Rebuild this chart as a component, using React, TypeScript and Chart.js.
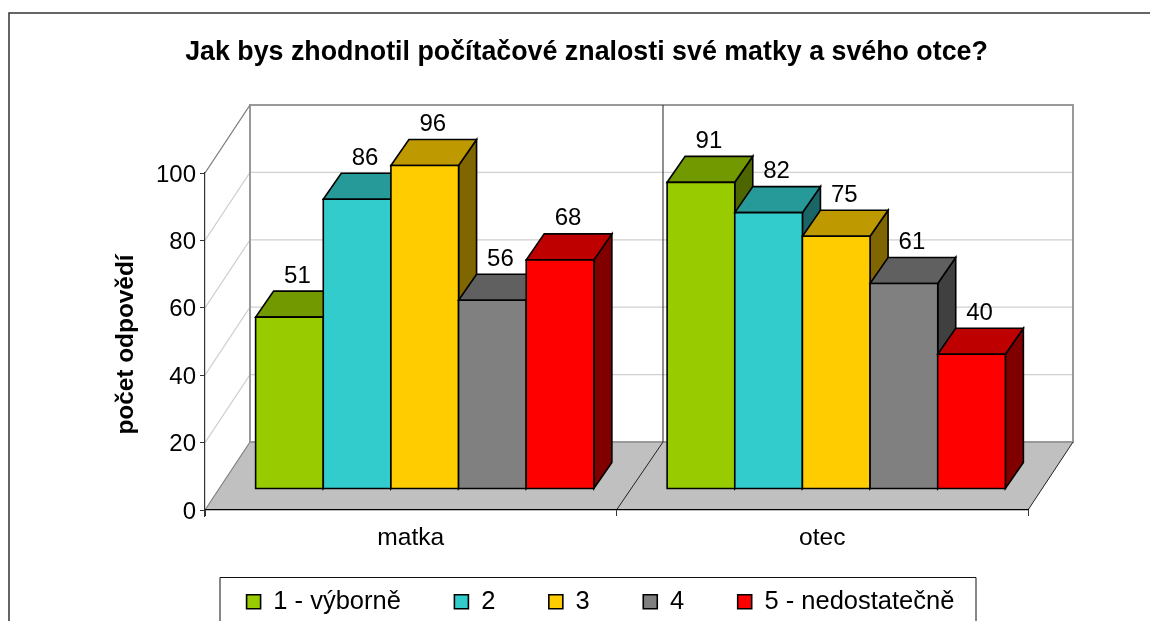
import React, { useEffect, useRef } from "react";
import { Chart, registerables } from "chart.js";

Chart.register(...registerables);

const categories = ["matka", "otec"];
const seriesNames = ["1 - výborně", "2", "3", "4", "5 - nedostatečně"];
const series1 = [51, 91];
const series2 = [86, 82];
const series3 = [96, 75];
const series4 = [56, 61];
const series5 = [68, 40];
const frontColors = ["#99cc00", "#33cccc", "#ffcc00", "#808080", "#ff0000"];
const topColors = ["#739900", "#269999", "#bf9900", "#606060", "#bf0000"];
const sideColors = ["#4d6600", "#1a6666", "#806600", "#404040", "#800000"];
const gridValues = [20, 40, 60, 80, 100];
const seriesValues = [series1, series2, series3, series4, series5];

const FONT = "'Liberation Sans', Arial, sans-serif";
const WALL_DX = 45;
const WALL_DY = 68;
const BAR_DX = 14;
const BAR_DY = 21;
const DEPTH_X = 18;
const DEPTH_Y = 26;
const LEGEND_LEFT = 220;
const LEGEND_RIGHT = 976;
const LEGEND_TOP = 577;

const scene3d = {
  id: "scene3d",
  afterLayout(chart: any) {
    const legend = chart.legend;
    const legendItemTop = 589;
    const pad = chart.options.plugins.legend.labels.padding;
    const legendCenter = (LEGEND_LEFT + LEGEND_RIGHT) / 2 + 2.5;
    legend.left = legendCenter - 500;
    legend.right = legendCenter + 500;
    legend.top = legendItemTop - pad;
    legend.bottom = legend.top + legend.height;
    const title = chart.titleBlock;
    title.left = 0;
    title.right = 1173;
    chart.scales.x.bottom = chart.scales.x.top + 50;
    chart.scales.y.bottom += 6;
  },
  beforeDraw(chart: any) {
    const { ctx, chartArea: a, scales } = chart;
    const y = scales.y;
    const x = scales.x;
    const y0 = y.getPixelForValue(0);
    const yMax = y.getPixelForValue(100);
    ctx.save();

    ctx.strokeStyle = "#333";
    ctx.lineWidth = 1.5;
    ctx.beginPath();
    ctx.moveTo(9, 700);
    ctx.lineTo(9, 13);
    ctx.lineTo(1150, 13);
    ctx.stroke();

    ctx.strokeStyle = "#d0d0d0";
    ctx.lineWidth = 1.2;
    for (const v of gridValues) {
      const py = y.getPixelForValue(v);
      ctx.beginPath();
      ctx.moveTo(a.left, py);
      ctx.lineTo(a.left + WALL_DX, py - WALL_DY);
      ctx.lineTo(a.right + WALL_DX, py - WALL_DY);
      ctx.stroke();
    }

    ctx.fillStyle = "#c0c0c0";
    ctx.beginPath();
    ctx.moveTo(a.left, y0);
    ctx.lineTo(a.left + WALL_DX, y0 - WALL_DY);
    ctx.lineTo(a.right + WALL_DX, y0 - WALL_DY);
    ctx.lineTo(a.right, y0);
    ctx.closePath();
    ctx.fill();

    ctx.strokeStyle = "#999";
    ctx.lineWidth = 2;
    ctx.beginPath();
    ctx.moveTo(a.left + WALL_DX, y0 - WALL_DY);
    ctx.lineTo(a.left + WALL_DX, yMax - WALL_DY);
    ctx.lineTo(a.right + WALL_DX, yMax - WALL_DY);
    ctx.lineTo(a.right + WALL_DX, y0 - WALL_DY);
    ctx.lineTo(a.left + WALL_DX, y0 - WALL_DY);
    ctx.stroke();

    ctx.strokeStyle = "#808080";
    ctx.lineWidth = 1.2;
    ctx.beginPath();
    ctx.moveTo(a.left, yMax);
    ctx.lineTo(a.left + WALL_DX, yMax - WALL_DY);
    ctx.moveTo(a.left, y0);
    ctx.lineTo(a.left + WALL_DX, y0 - WALL_DY);
    ctx.stroke();

    const mid = x.getPixelForValue(0.5);
    ctx.strokeStyle = "#222";
    ctx.lineWidth = 1;
    ctx.beginPath();
    ctx.moveTo(mid, y0);
    ctx.lineTo(mid + WALL_DX + 1.5, y0 - WALL_DY);
    ctx.lineTo(mid + WALL_DX + 1.5, yMax - WALL_DY);
    ctx.moveTo(a.right, y0);
    ctx.lineTo(a.right + WALL_DX, y0 - WALL_DY);
    ctx.stroke();
    ctx.restore();
  },
  beforeDatasetsDraw(chart: any) {
    const { ctx } = chart;
    ctx.save();
    ctx.translate(BAR_DX, -BAR_DY);
    ctx.lineJoin = "miter";
    categories.forEach((_c, ci) => {
      seriesValues.forEach((_s, si) => {
        const el = chart.getDatasetMeta(si).data[ci];
        const l = el.x - el.width / 2;
        const r = el.x + el.width / 2;
        const t = el.y;
        const b = el.base;
        ctx.strokeStyle = "#000";
        ctx.lineWidth = 1.6;
        ctx.fillStyle = sideColors[si];
        ctx.beginPath();
        ctx.moveTo(r, t);
        ctx.lineTo(r + DEPTH_X, t - DEPTH_Y);
        ctx.lineTo(r + DEPTH_X, b - DEPTH_Y);
        ctx.lineTo(r, b);
        ctx.closePath();
        ctx.fill();
        ctx.stroke();
        ctx.fillStyle = topColors[si];
        ctx.beginPath();
        ctx.moveTo(l, t);
        ctx.lineTo(l + DEPTH_X, t - DEPTH_Y);
        ctx.lineTo(r + DEPTH_X, t - DEPTH_Y);
        ctx.lineTo(r, t);
        ctx.closePath();
        ctx.fill();
        ctx.stroke();
        ctx.fillStyle = frontColors[si];
        ctx.beginPath();
        ctx.rect(l, t, r - l, b - t);
        ctx.fill();
        ctx.stroke();
      });
    });
    ctx.fillStyle = "#000";
    ctx.font = `24px ${FONT}`;
    ctx.textAlign = "center";
    ctx.textBaseline = "middle";
    seriesValues.forEach((s, si) => {
      s.forEach((v, ci) => {
        const el = chart.getDatasetMeta(si).data[ci];
        ctx.fillText(String(v), el.x + 8, el.y - DEPTH_Y - 15);
      });
    });
    ctx.restore();
    return false;
  },
  afterDraw(chart: any) {
    const { ctx } = chart;
    ctx.save();
    ctx.strokeStyle = "#111";
    ctx.lineWidth = 1;
    ctx.beginPath();
    ctx.moveTo(LEGEND_LEFT, 700);
    ctx.lineTo(LEGEND_LEFT, LEGEND_TOP + 0.5);
    ctx.lineTo(LEGEND_RIGHT, LEGEND_TOP + 0.5);
    ctx.lineTo(LEGEND_RIGHT, 700);
    ctx.stroke();
    ctx.restore();
  },
};

export default function App() {
  const ref = useRef<HTMLCanvasElement>(null);
  useEffect(() => {
    const chart = new Chart(ref.current as HTMLCanvasElement, {
      type: "bar",
      data: {
        labels: categories,
        datasets: seriesNames.map((name, i) => ({
          label: name,
          data: seriesValues[i],
          backgroundColor: frontColors[i],
          borderColor: "#000",
          borderWidth: 1.6,
          barPercentage: 1,
          categoryPercentage: 0.822,
        })),
      },
      plugins: [scene3d],
      options: {
        responsive: false,
        animation: false,
        layout: { padding: { left: 112, right: 122, top: 0, bottom: 0 } },
        plugins: {
          title: {
            display: true,
            text: "Jak bys zhodnotil počítačové znalosti své matky a svého otce?",
            color: "#000",
            font: { family: FONT, size: 26.8, weight: "bold" },
            padding: { top: 37, bottom: 103.84 },
          },
          legend: {
            display: true,
            position: "bottom",
            labels: {
              color: "#000",
              font: { family: FONT, size: 25.5 },
              boxWidth: 14,
              boxHeight: 14,
              padding: 53.5,
            },
          },
          tooltip: { enabled: false },
        },
        scales: {
          x: {
            afterFit(scale: any) {
              scale.height = 621 - 510 - scale.chart.legend.height;
            },
            grid: { drawOnChartArea: false, drawTicks: true, tickLength: 6, tickColor: "#333" },
            border: { color: "#000", width: 1.2 },
            ticks: { color: "#000", font: { family: FONT, size: 24.6 }, padding: 7 },
          },
          y: {
            min: 0,
            max: 100,
            afterFit(scale: any) {
              scale.width = 93;
            },
            title: {
              display: true,
              text: "počet odpovědí",
              color: "#000",
              font: { family: FONT, size: 24.4, weight: "bold" },
              padding: 0,
            },
            grid: { drawOnChartArea: false, drawTicks: true, tickLength: 5, tickColor: "#333" },
            border: { color: "#333", width: 1.2 },
            ticks: { color: "#000", stepSize: 20, labelOffset: 2, font: { family: FONT, size: 24 }, padding: 4 },
          },
        },
      },
    } as any);
    return () => chart.destroy();
  }, []);
  return (
    <div style={{ position: "fixed", left: 0, top: 0, width: 1150, height: 621, overflow: "hidden" }}>
      <canvas ref={ref} width={1150} height={621} style={{ display: "block" }} />
    </div>
  );
}
